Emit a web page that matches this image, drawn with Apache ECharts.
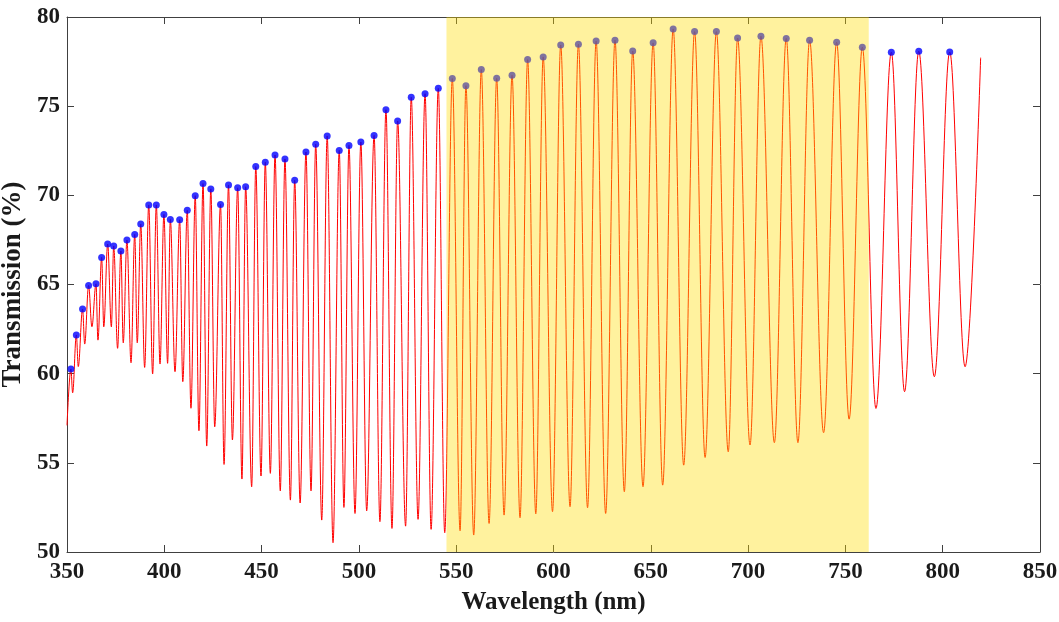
<!DOCTYPE html>
<html><head><meta charset="utf-8">
<script src="https://cdn.jsdelivr.net/npm/echarts@6/dist/echarts.min.js"></script>
<style>html,body{margin:0;padding:0;background:#fff}#c{width:1059px;height:622px}</style>
</head><body><div id="c"></div>
<script>
// Peak positions (blue dots)
const peakWl = [352.0, 354.8, 358.0, 361.1, 364.9, 367.8, 370.9, 374.0, 377.7, 380.8,
  384.8, 387.9, 392.0, 395.9, 399.8, 403.1, 407.9, 411.8, 415.9, 419.9,
  423.9, 428.9, 433.0, 437.7, 441.8, 447.0, 451.9, 456.9, 462.0, 467.0,
  472.8, 477.8, 483.7, 489.9, 494.9, 501.0, 507.8, 513.9, 519.9, 526.9,
  534.0, 540.8, 548.0, 555.0, 562.9, 570.8, 578.7, 586.7, 594.7, 603.7,
  612.8, 621.9, 631.6, 640.7, 651.2, 661.5, 672.5, 683.7, 694.6, 706.6,
  719.6, 731.6, 745.5, 758.7, 773.6, 787.7, 803.6];
const peakT = [60.26, 62.17, 63.62, 64.95, 65.04, 66.52, 67.27, 67.16, 66.88, 67.49,
  67.81, 68.39, 69.46, 69.46, 68.93, 68.65, 68.63, 69.16, 69.98, 70.66,
  70.36, 69.49, 70.58, 70.42, 70.48, 71.61, 71.85, 72.26, 72.04, 70.84,
  72.43, 72.86, 73.33, 72.52, 72.80, 72.99, 73.36, 74.80, 74.17, 75.50,
  75.70, 76.00, 76.55, 76.15, 77.05, 76.56, 76.73, 77.61, 77.76, 78.43,
  78.47, 78.65, 78.70, 78.09, 78.55, 79.33, 79.18, 79.18, 78.82, 78.92,
  78.80, 78.69, 78.58, 78.30, 78.02, 78.08, 78.04];
// Trough positions
const troughWl = [352.9, 355.8, 359.1, 362.8, 365.9, 368.9, 372.8, 376.0, 378.9, 382.9,
  386.1, 389.9, 394.0, 397.8, 401.7, 405.5, 409.5, 413.7, 417.8, 421.8,
  425.9, 430.7, 435.0, 439.9, 444.9, 449.7, 454.5, 459.6, 464.8, 469.8,
  475.4, 480.9, 486.7, 492.3, 498.0, 504.0, 510.8, 517.0, 524.0, 530.4,
  537.1, 544.1, 552.0, 559.0, 566.9, 574.6, 582.8, 590.9, 599.5, 608.5,
  617.5, 626.8, 636.4, 646.0, 656.1, 666.9, 677.9, 689.8, 701.0, 713.5,
  725.6, 738.8, 751.9, 765.7, 780.4, 795.7, 811.5];
const troughT = [58.93, 60.40, 61.66, 62.63, 61.88, 62.63, 62.63, 61.42, 61.73, 60.61,
  61.73, 60.35, 59.98, 60.54, 60.58, 60.11, 59.55, 58.06, 56.80, 55.94,
  57.02, 54.91, 56.28, 54.09, 53.66, 54.26, 54.41, 53.43, 52.91, 52.75,
  53.43, 51.79, 50.52, 52.50, 52.16, 52.31, 51.70, 51.32, 51.45, 51.83,
  51.27, 51.08, 51.19, 50.95, 51.60, 52.07, 51.92, 52.14, 52.26, 52.54,
  52.48, 52.16, 53.38, 53.66, 53.75, 54.87, 55.30, 55.62, 56.00, 56.13,
  56.13, 56.69, 57.45, 58.05, 58.99, 59.83, 60.39];
// Start and end of the measured curve
const edgeWl = [350.0, 819.5];
const edgeT = [57.1, 77.72];
// Highlighted wavelength band
const bandRange = [545, 762];
// Axis ranges [min, max, interval]
const xRange = [350, 850, 50];
const yRange = [50, 80, 5];

const spectrum = [];
edgeWl.forEach((w, i) => spectrum.push([w, edgeT[i]]));
peakWl.forEach((w, i) => spectrum.push([w, peakT[i]]));
troughWl.forEach((w, i) => spectrum.push([w, troughT[i]]));
spectrum.sort((a, b) => a[0] - b[0]);
const peaks = peakWl.map((w, i) => [w, peakT[i]]);

const font = 'Liberation Serif, Times New Roman, serif';
const axisCol = '#404040';
function xAx(pos, showLabel) {
  return {
    type: 'value', position: pos, min: xRange[0], max: xRange[1], interval: xRange[2],
    axisLine: { show: true, onZero: false, lineStyle: { color: axisCol, width: 1 } },
    axisTick: { show: true, inside: true, length: 7, lineStyle: { color: axisCol } },
    axisLabel: { show: showLabel, fontFamily: font, fontWeight: 'bold', fontSize: 23, color: '#1a1a1a', margin: 9 },
    splitLine: { show: false },
    name: showLabel ? 'Wavelength (nm)' : '', nameLocation: 'middle', nameGap: 38,
    nameTextStyle: { fontFamily: font, fontWeight: 'bold', fontSize: 25, color: '#1a1a1a' }
  };
}
function yAx(pos, showLabel) {
  return {
    type: 'value', position: pos, min: yRange[0], max: yRange[1], interval: yRange[2],
    axisLine: { show: true, onZero: false, lineStyle: { color: axisCol, width: 1 } },
    axisTick: { show: true, inside: true, length: 7, lineStyle: { color: axisCol } },
    axisLabel: { show: showLabel, fontFamily: font, fontWeight: 'bold', fontSize: 23, color: '#1a1a1a', margin: 7 },
    splitLine: { show: false },
    name: showLabel ? 'Transmission (%)' : '', nameLocation: 'middle', nameGap: 31,
    nameTextStyle: { fontFamily: font, fontWeight: 'bold', fontSize: 27, color: '#1a1a1a' }
  };
}

const chart = echarts.init(document.getElementById('c'), null, { renderer: 'canvas' });
chart.setOption({
  animation: false,
  backgroundColor: '#ffffff',
  grid: { left: 67, right: 19, top: 17, bottom: 70, containLabel: false, outerBoundsMode: 'none' },
  xAxis: [xAx('bottom', true), xAx('top', false)],
  yAxis: [yAx('left', true), yAx('right', false)],
  series: [
    {
      type: 'line', data: spectrum, xAxisIndex: 0, yAxisIndex: 0,
      showSymbol: false, smooth: 0.36, smoothMonotone: 'x',
      lineStyle: { color: '#ff0000', width: 1 }, z: 2
    },
    {
      type: 'scatter', data: peaks, xAxisIndex: 0, yAxisIndex: 0,
      symbol: 'circle', symbolSize: 7,
      itemStyle: { color: '#0000ff' }, z: 3
    },
    {
      type: 'custom', xAxisIndex: 0, yAxisIndex: 0, silent: true, z: 10,
      data: [[bandRange[0], bandRange[1]]],
      renderItem: function (params, api) {
        const p0 = api.coord([api.value(0), yRange[1]]);
        const p1 = api.coord([api.value(1), yRange[0]]);
        return {
          type: 'rect',
          shape: { x: p0[0], y: p0[1], width: p1[0] - p0[0], height: p1[1] - p0[1] },
          style: { fill: 'rgba(255,220,0,0.38)' }
        };
      }
    }
  ]
});
</script>
</body></html>
